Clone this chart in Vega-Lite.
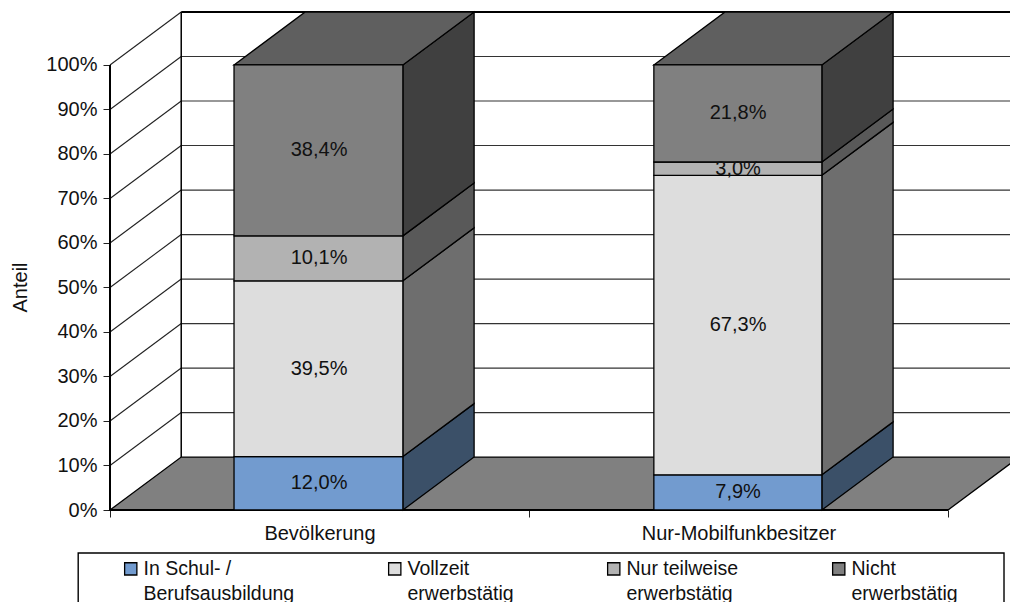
{
"$schema":"https://vega.github.io/schema/vega-lite/v6.json",
"width":900,"height":510,
"autosize":{"type":"none"},
"padding":{"left":110,"top":0,"right":0,"bottom":92},
"background":"white",
"config":{"view":{"stroke":null},"font":"Liberation Sans","style":{"guide-label":{"lineHeight":25.5}}},
"datasets":{
"floor":[{"x":0,"y":0,"y2":0},{"x":0.17,"y":11.9,"y2":0},{"x":2,"y":11.9,"y2":0},{"x":2.17,"y":11.9,"y2":11.9}],
"grid":[{"x":0.17,"x2":2.2,"y":21.9},{"x":0.17,"x2":2.2,"y":31.9},{"x":0.17,"x2":2.2,"y":41.9},{"x":0.17,"x2":2.2,"y":51.9},{"x":0.17,"x2":2.2,"y":61.9},{"x":0.17,"x2":2.2,"y":71.9},{"x":0.17,"x2":2.2,"y":81.9},{"x":0.17,"x2":2.2,"y":91.9},{"x":0.17,"x2":2.2,"y":101.9}],
"diag":[
{"lvl":10,"x":0,"y":10},{"lvl":10,"x":0.17,"y":21.9},{"lvl":20,"x":0,"y":20},{"lvl":20,"x":0.17,"y":31.9},{"lvl":30,"x":0,"y":30},{"lvl":30,"x":0.17,"y":41.9},{"lvl":40,"x":0,"y":40},{"lvl":40,"x":0.17,"y":51.9},{"lvl":50,"x":0,"y":50},{"lvl":50,"x":0.17,"y":61.9},{"lvl":60,"x":0,"y":60},{"lvl":60,"x":0.17,"y":71.9},{"lvl":70,"x":0,"y":70},{"lvl":70,"x":0.17,"y":81.9},{"lvl":80,"x":0,"y":80},{"lvl":80,"x":0.17,"y":91.9},{"lvl":90,"x":0,"y":90},{"lvl":90,"x":0.17,"y":101.9},{"lvl":100,"x":0,"y":100},{"lvl":100,"x":0.17,"y":111.9}],
"bars":[
{"cat":"Bevölkerung","segment":"In Schul- /|Berufsausbildung","x":0.296,"x2":0.699,"y":0,"y2":12,"mx":0.499,"my":6,"label":"12,0%"},
{"cat":"Bevölkerung","segment":"Vollzeit|erwerbstätig","x":0.296,"x2":0.699,"y":12,"y2":51.5,"mx":0.499,"my":31.75,"label":"39,5%"},
{"cat":"Bevölkerung","segment":"Nur teilweise|erwerbstätig","x":0.296,"x2":0.699,"y":51.5,"y2":61.6,"mx":0.499,"my":56.55,"label":"10,1%"},
{"cat":"Bevölkerung","segment":"Nicht|erwerbstätig","x":0.296,"x2":0.699,"y":61.6,"y2":100,"mx":0.499,"my":80.8,"label":"38,4%"},
{"cat":"Nur-Mobilfunkbesitzer","segment":"In Schul- /|Berufsausbildung","x":1.298,"x2":1.699,"y":0,"y2":7.9,"mx":1.499,"my":3.95,"label":"7,9%"},
{"cat":"Nur-Mobilfunkbesitzer","segment":"Vollzeit|erwerbstätig","x":1.298,"x2":1.699,"y":7.9,"y2":75.2,"mx":1.499,"my":41.55,"label":"67,3%"},
{"cat":"Nur-Mobilfunkbesitzer","segment":"Nur teilweise|erwerbstätig","x":1.298,"x2":1.699,"y":75.2,"y2":78.2,"mx":1.499,"my":76.7,"label":"3,0%"},
{"cat":"Nur-Mobilfunkbesitzer","segment":"Nicht|erwerbstätig","x":1.298,"x2":1.699,"y":78.2,"y2":100,"mx":1.499,"my":89.1,"label":"21,8%"}],
"sides":[
{"cat":"Bevölkerung","segment":"In Schul- /|Berufsausbildung","x":0.699,"y":0,"y2":12},{"cat":"Bevölkerung","segment":"In Schul- /|Berufsausbildung","x":0.869,"y":11.9,"y2":23.9},
{"cat":"Bevölkerung","segment":"Vollzeit|erwerbstätig","x":0.699,"y":12,"y2":51.5},{"cat":"Bevölkerung","segment":"Vollzeit|erwerbstätig","x":0.869,"y":23.9,"y2":63.4},
{"cat":"Bevölkerung","segment":"Nur teilweise|erwerbstätig","x":0.699,"y":51.5,"y2":61.6},{"cat":"Bevölkerung","segment":"Nur teilweise|erwerbstätig","x":0.869,"y":63.4,"y2":73.5},
{"cat":"Bevölkerung","segment":"Nicht|erwerbstätig","x":0.699,"y":61.6,"y2":100},{"cat":"Bevölkerung","segment":"Nicht|erwerbstätig","x":0.869,"y":73.5,"y2":111.9},
{"cat":"Nur-Mobilfunkbesitzer","segment":"In Schul- /|Berufsausbildung","x":1.699,"y":0,"y2":7.9},{"cat":"Nur-Mobilfunkbesitzer","segment":"In Schul- /|Berufsausbildung","x":1.869,"y":11.9,"y2":19.8},
{"cat":"Nur-Mobilfunkbesitzer","segment":"Vollzeit|erwerbstätig","x":1.699,"y":7.9,"y2":75.2},{"cat":"Nur-Mobilfunkbesitzer","segment":"Vollzeit|erwerbstätig","x":1.869,"y":19.8,"y2":87.1},
{"cat":"Nur-Mobilfunkbesitzer","segment":"Nur teilweise|erwerbstätig","x":1.699,"y":75.2,"y2":78.2},{"cat":"Nur-Mobilfunkbesitzer","segment":"Nur teilweise|erwerbstätig","x":1.869,"y":87.1,"y2":90.1},
{"cat":"Nur-Mobilfunkbesitzer","segment":"Nicht|erwerbstätig","x":1.699,"y":78.2,"y2":100},{"cat":"Nur-Mobilfunkbesitzer","segment":"Nicht|erwerbstätig","x":1.869,"y":90.1,"y2":111.9}],
"tops":[
{"cat":"Bevölkerung","x":0.296,"y":100,"y2":100},{"cat":"Bevölkerung","x":0.466,"y":111.9,"y2":100},{"cat":"Bevölkerung","x":0.699,"y":111.9,"y2":100},{"cat":"Bevölkerung","x":0.869,"y":111.9,"y2":111.9},
{"cat":"Nur-Mobilfunkbesitzer","x":1.298,"y":100,"y2":100},{"cat":"Nur-Mobilfunkbesitzer","x":1.468,"y":111.9,"y2":100},{"cat":"Nur-Mobilfunkbesitzer","x":1.699,"y":111.9,"y2":100},{"cat":"Nur-Mobilfunkbesitzer","x":1.869,"y":111.9,"y2":111.9}]
},
"encoding":{
"x":{"field":"x","type":"quantitative","title":null,"scale":{"domain":[0,2.148],"nice":false,"zero":false},
"axis":{"values":[0,0.5,1,1.5,2],"domain":false,"grid":false,"tickSize":7,"tickColor":"#222","tickOpacity":{"condition":{"test":"datum.value==0.5||datum.value==1.5","value":0},"value":1},"labelExpr":"datum.value==0.5?'Bevölkerung':datum.value==1.5?'Nur-Mobilfunkbesitzer':''","labelFontSize":20,"labelColor":"#111","labelPadding":6,"labelLimit":400,"labelOverlap":false,"labelBound":false,"labelFlush":false}},
"y":{"field":"y","type":"quantitative","stack":null,"title":"Anteil","scale":{"domain":[0,114.6],"nice":false,"zero":false},
"axis":{"values":[0,10,20,30,40,50,60,70,80,90,100],"domain":false,"grid":false,"tickSize":7,"tickColor":"#222","labelExpr":"datum.value+'%'","labelFontSize":20,"labelColor":"#111","labelPadding":6,"titleFontSize":20,"titleFontWeight":"normal","titleColor":"#111","titleX":-80,"titleY":287,"labelOverlap":false,"labelBound":false,"labelFlush":false}}
},
"layer":[
{"data":{"name":"grid"},"mark":{"type":"rule","stroke":"#333","strokeWidth":1.2},"encoding":{"x2":{"field":"x2"}}},
{"data":{"values":[{"x":0.17,"x2":2.2,"y":111.9}]},"mark":{"type":"rule","stroke":"black","strokeWidth":2},"encoding":{"x2":{"field":"x2"}}},
{"data":{"name":"diag"},"mark":{"type":"line","stroke":"#222","strokeWidth":1.1},"encoding":{"detail":{"field":"lvl"}}},
{"data":{"values":[{"x":0.17,"y":11.9,"y2":111.9}]},"mark":{"type":"rule","stroke":"black","strokeWidth":1.5},"encoding":{"y2":{"field":"y2"}}},
{"data":{"name":"floor"},"mark":{"type":"area","fill":"#808080","stroke":"black","strokeWidth":1.3},"encoding":{"y2":{"field":"y2"}}},
{"data":{"values":[{"x":0,"y":0,"y2":100}]},"mark":{"type":"rule","stroke":"black","strokeWidth":2},"encoding":{"y2":{"field":"y2"}}},
{"data":{"values":[{"x":0,"x2":2,"y":0}]},"mark":{"type":"rule","stroke":"black","strokeWidth":2.2},"encoding":{"x2":{"field":"x2"}}},
{"data":{"name":"sides"},"mark":{"type":"area","stroke":"black","strokeWidth":1.3},"encoding":{"y2":{"field":"y2"},"detail":{"field":"cat"},
"color":{"field":"segment","type":"nominal","legend":null,"scale":{"domain":["In Schul- /|Berufsausbildung","Vollzeit|erwerbstätig","Nur teilweise|erwerbstätig","Nicht|erwerbstätig"],"range":["#3b5068","#6e6e6e","#595959","#404040"]}}}},
{"data":{"name":"tops"},"mark":{"type":"area","fill":"#5f5f5f","stroke":"black","strokeWidth":1.3},"encoding":{"y2":{"field":"y2"},"detail":{"field":"cat"}}},
{"data":{"name":"bars"},"mark":{"type":"rect","stroke":"black","strokeWidth":1.3},"encoding":{"x2":{"field":"x2"},"y2":{"field":"y2"},
"color":{"field":"segment","type":"nominal","sort":null,"scale":{"domain":["In Schul- /|Berufsausbildung","Vollzeit|erwerbstätig","Nur teilweise|erwerbstätig","Nicht|erwerbstätig"],"range":["#729bcf","#dddddd","#b2b2b2","#808080"]},
"legend":{"title":null,"orient":"none","legendX":11,"legendY":559,"direction":"horizontal","columns":4,"columnPadding":90,"gridAlign":"each","symbolType":"square","symbolSize":150,"symbolStrokeColor":"black","symbolStrokeWidth":1.3,"labelFontSize":19.5,"labelColor":"#111","labelLimit":300,"labelOffset":3,"padding":0,"zindex":1,"labelExpr":"split(datum.label,'|')"}}}},
{"data":{"values":[{"x":-0.0759,"x2":2.1337,"y":-9.66,"y2":-30}]},"mark":{"type":"rect","fill":"white","stroke":"black","strokeWidth":1.4},"encoding":{"x2":{"field":"x2"},"y2":{"field":"y2"}}},
{"data":{"name":"bars"},"mark":{"type":"text","fontSize":20,"color":"#111"},"encoding":{"x":{"field":"mx","type":"quantitative"},"y":{"field":"my","type":"quantitative"},"text":{"field":"label"}}}
],
"resolve":{"scale":{"color":"independent"}}
}
